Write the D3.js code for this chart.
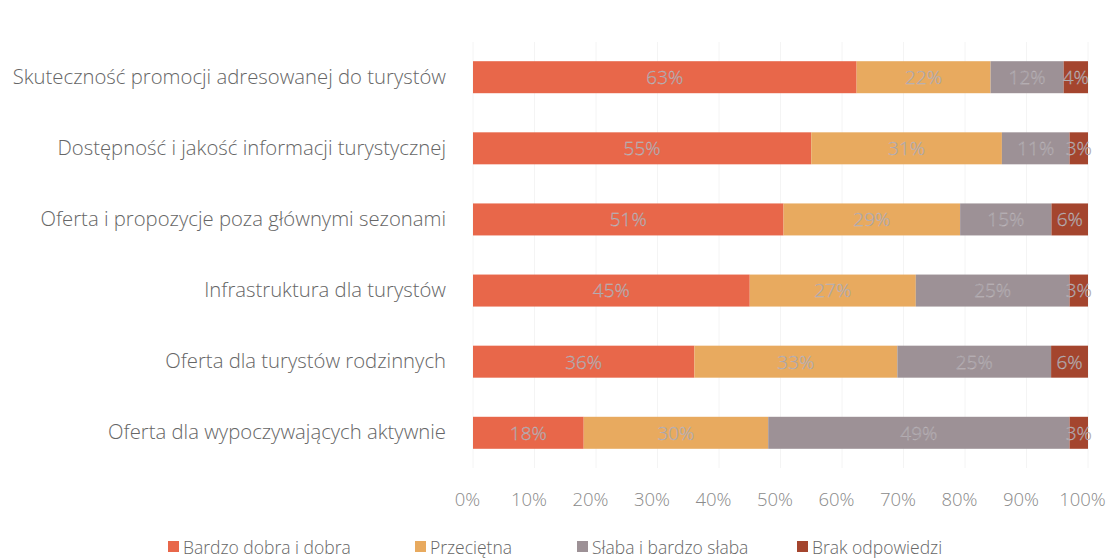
<!DOCTYPE html>
<html>
<head>
<meta charset="utf-8">
<script src="https://cdn.jsdelivr.net/npm/d3@7"></script>
<style>
  body { margin: 0; background: #fff; }
  text { font-family: "Open Sans", sans-serif; }
</style>
</head>
<body>
<script>
let categories = [
  'Skuteczność promocji adresowanej do turystów',
  'Dostępność i jakość informacji turystycznej',
  'Oferta i propozycje poza głównymi sezonami',
  'Infrastruktura dla turystów',
  'Oferta dla turystów rodzinnych',
  'Oferta dla wypoczywających aktywnie'
];
let seriesNames = ['Bardzo dobra i dobra', 'Przeciętna', 'Słaba i bardzo słaba', 'Brak odpowiedzi'];
let bardzoDobra = [63, 55, 51, 45, 36, 18];
let przecietna = [22, 31, 29, 27, 33, 30];
let slaba = [12, 11, 15, 25, 25, 49];
let brak = [4, 3, 6, 3, 6, 3];
let tickValues = [0, 0.1, 0.2, 0.3, 0.4, 0.5, 0.6, 0.7, 0.8, 0.9, 1];
let colors = ['#e8674a', '#e8aa5f', '#9d9196', '#a4452e'];

let width = 1114, height = 559;
let margin = { top: 42, bottom: 91, left: 473, right: 26 };

let rows = categories.map((c, i) => {
  let vals = [bardzoDobra[i], przecietna[i], slaba[i], brak[i]];
  let total = d3.sum(vals);
  let acc = 0;
  let segs = vals.map((v, k) => {
    let s = { cat: c, key: k, value: v, x0: acc / total, x1: (acc + v) / total };
    acc += v;
    return s;
  });
  return { cat: c, segs: segs };
});

let svg = d3.select('body').append('svg')
  .attr('width', width)
  .attr('height', height);

let xScale = d3.scaleLinear()
  .domain([0, 1])
  .range([margin.left, width - margin.right]);

let yScale = d3.scaleBand()
  .domain(categories)
  .range([margin.top, height - margin.bottom])
  .paddingInner(0.55)
  .paddingOuter(0.27);

// faint gridlines
svg.append('g')
  .selectAll('line')
  .data(tickValues)
  .enter().append('line')
  .attr('x1', d => xScale(d))
  .attr('x2', d => xScale(d))
  .attr('y1', margin.top)
  .attr('y2', height - margin.bottom)
  .attr('stroke', '#f4f4f4')
  .attr('stroke-width', 1);

let xAxis = svg.append('g')
  .attr('transform', `translate(-6,${height - margin.bottom + 22})`)
  .call(d3.axisBottom(xScale).tickValues(tickValues).tickSize(0).tickFormat(d3.format('.0%')));
xAxis.select('.domain').remove();
xAxis.selectAll('text')
  .attr('fill', '#8a8a8a')
  .style('font-size', '18.5px')
  .style('font-weight', 300);

let yAxis = svg.append('g')
  .attr('transform', `translate(${margin.left - 24},0)`)
  .call(d3.axisLeft(yScale).tickSize(0));
yAxis.select('.domain').remove();
yAxis.selectAll('text')
  .attr('fill', '#666')
  .style('font-size', '20.3px')
  .style('font-weight', 300);

let rowG = svg.selectAll('.row')
  .data(rows)
  .enter().append('g')
  .attr('class', 'row')
  .attr('transform', d => `translate(0,${yScale(d.cat)})`);

rowG.selectAll('rect')
  .data(d => d.segs)
  .enter().append('rect')
  .attr('x', d => xScale(d.x0))
  .attr('width', d => xScale(d.x1) - xScale(d.x0))
  .attr('y', 0)
  .attr('height', yScale.bandwidth())
  .attr('fill', d => colors[d.key]);

rowG.selectAll('text')
  .data(d => d.segs)
  .enter().append('text')
  .attr('x', d => (xScale(d.x0) + xScale(d.x1)) / 2)
  .attr('y', yScale.bandwidth() / 2)
  .attr('dy', '0.36em')
  .attr('text-anchor', 'middle')
  .attr('fill', '#96929a')
  .attr('stroke', '#c9c1c4')
  .attr('stroke-width', 0.3)
  .style('font-size', '19px')
  .style('font-weight', 300)
  .text(d => d.value + '%');

// legend
let legendX = [168, 415, 577, 797];
let legend = svg.append('g')
  .attr('transform', `translate(0,${height - 5})`);

let legendItems = legend.selectAll('.legend-item')
  .data(seriesNames)
  .enter().append('g')
  .attr('class', 'legend-item')
  .attr('transform', (d, i) => `translate(${legendX[i]},0)`);

legendItems.append('rect')
  .attr('x', 0)
  .attr('y', -13)
  .attr('width', 11)
  .attr('height', 11)
  .attr('fill', (d, i) => colors[i]);

legendItems.append('text')
  .attr('x', 15)
  .attr('y', 0)
  .attr('fill', '#666')
  .style('font-size', '17.5px')
  .style('font-weight', 300)
  .text(d => d);
</script>
</body>
</html>
